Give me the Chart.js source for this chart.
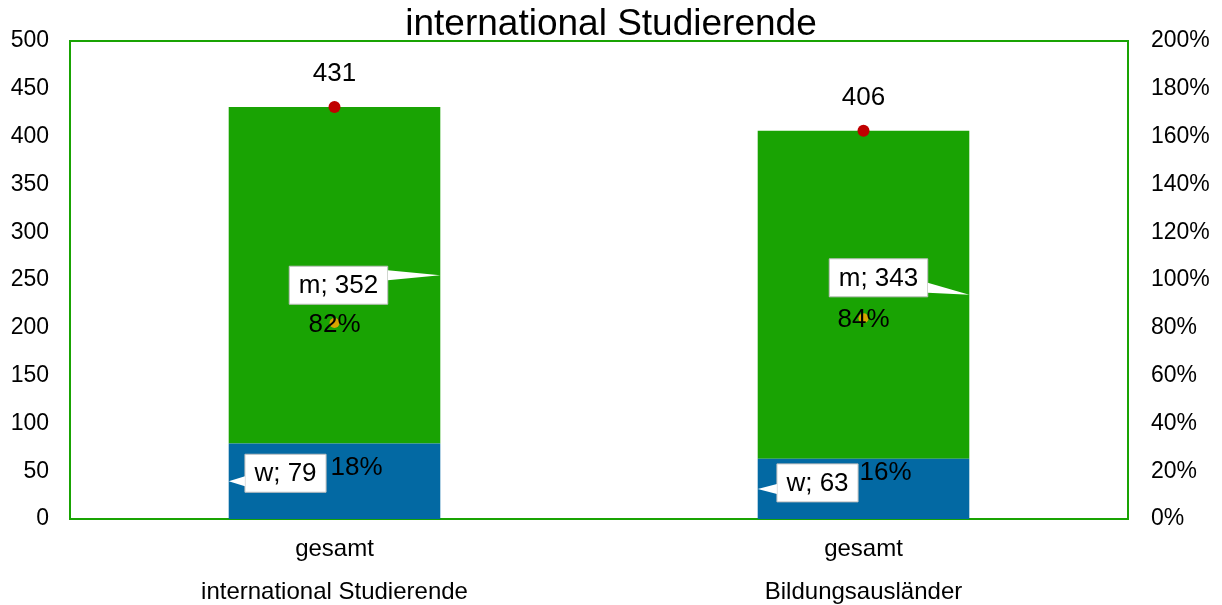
<!DOCTYPE html>
<html lang="de">
<head>
    <meta charset="UTF-8">
    <title>international Studierende</title>
    <script src="https://cdn.jsdelivr.net/npm/chart.js"></script>
    <style>
        body { margin: 0; background: #ffffff; }
        .wrap { width: 1222px; height: 605px; position: relative; }
    </style>
</head>
<body>
    <div class="wrap"><canvas id="chart"></canvas></div>

    <script>
        // data
        const categories = [['gesamt', 'international Studierende'], ['gesamt', 'Bildungsausländer']];
        const women = [79, 63];
        const men = [352, 343];
        const totals = [431, 406];
        const menShare = [82, 84];
        const womenShare = [18, 16];
        const leftMax = 500;
        const rightMax = 200;

        const GREEN = '#19a303';
        const BLUE = '#0369a3';
        const FONT = '"Liberation Sans", Arial, sans-serif';

        // callout box offsets relative to bar centre / segment middle (style only)
        const calloutStyle = {
            0: { dx: [-49, -46], dy: [-8, -6], side: 'left' },
            1: { dx: [4, 15], dy: [10, -17], side: 'right' }
        };

        const frame = {
            id: 'frame',
            beforeDraw(chart) {
                const { ctx, chartArea: a } = chart;
                ctx.save();
                ctx.strokeStyle = GREEN;
                ctx.lineWidth = 2;
                ctx.strokeRect(a.left, a.top, a.right - a.left, a.bottom - a.top);
                ctx.restore();
            },
            afterDraw(chart) {
                const { ctx } = chart;
                ctx.save();
                ctx.fillStyle = '#000';
                ctx.textAlign = 'center';
                ctx.textBaseline = 'middle';
                ctx.font = '37px ' + FONT;
                ctx.fillText('international Studierende', 611, 25);
                ctx.restore();
            }
        };

        const labels = {
            id: 'labels',
            afterDatasetsDraw(chart) {
                const { ctx } = chart;
                ctx.save();
                ctx.font = '26px ' + FONT;
                ctx.textBaseline = 'middle';

                // callouts for w / m
                [0, 1].forEach(di => {
                    const meta = chart.getDatasetMeta(di);
                    const name = di === 0 ? 'w' : 'm';
                    const vals = di === 0 ? women : men;
                    meta.data.forEach((bar, j) => {
                        const st = calloutStyle[di];
                        const mid = (bar.y + bar.base) / 2;
                        const txt = name + '; ' + vals[j];
                        const tw = ctx.measureText(txt).width;
                        const bw = tw + 19, bh = 38;
                        const cx = bar.x + st.dx[j], cy = mid + st.dy[j];
                        const x0 = cx - bw / 2, y0 = cy - bh / 2;
                        const tipX = st.side === 'right' ? bar.x + bar.width / 2 : bar.x - bar.width / 2;
                        const edge = st.side === 'right' ? x0 + bw : x0;
                        const ny = Math.max(y0 + 4, Math.min(y0 + bh - 14, mid - 5));
                        ctx.fillStyle = '#fff';
                        ctx.strokeStyle = '#bfbfbf';
                        ctx.lineWidth = 1;
                        ctx.beginPath();
                        ctx.rect(x0, y0, bw, bh);
                        ctx.fill();
                        ctx.stroke();
                        ctx.beginPath();
                        ctx.moveTo(edge, ny);
                        ctx.lineTo(tipX, mid);
                        ctx.lineTo(edge, ny + 10);
                        ctx.closePath();
                        ctx.fill();
                        ctx.fillStyle = '#000';
                        ctx.textAlign = 'center';
                        ctx.fillText(txt, cx, cy + 1);
                    });
                });

                ctx.textAlign = 'center';
                ctx.fillStyle = '#000';
                // totals
                chart.getDatasetMeta(2).data.forEach((p, j) => {
                    ctx.fillText(String(totals[j]), p.x, p.y - 33);
                });
                // shares
                chart.getDatasetMeta(3).data.forEach((p, j) => {
                    ctx.fillText(menShare[j] + '%', p.x, p.y + 2);
                });
                chart.getDatasetMeta(4).data.forEach((p, j) => {
                    ctx.fillText(womenShare[j] + '%', p.x + 22, p.y - 8);
                });
                ctx.restore();
            }
        };

        new Chart(document.getElementById('chart'), {
            data: {
                labels: categories,
                datasets: [
                    { type: 'bar', label: 'w', data: women, backgroundColor: BLUE, stack: 's', yAxisID: 'y', order: 2 },
                    { type: 'bar', label: 'm', data: men, backgroundColor: GREEN, stack: 's', yAxisID: 'y', order: 2 },
                    { type: 'line', label: 'gesamt', data: totals, showLine: false, pointRadius: 6, pointBackgroundColor: '#c00000', pointBorderWidth: 0, yAxisID: 'y', order: 1 },
                    { type: 'line', label: 'Anteil m', data: menShare, showLine: false, pointRadius: 5, pointBackgroundColor: '#d9a400', pointBorderWidth: 0, yAxisID: 'y2', order: 1 },
                    { type: 'line', label: 'Anteil w', data: womenShare, showLine: false, pointRadius: 0, yAxisID: 'y2', order: 1 }
                ]
            },
            options: {
                responsive: true,
                maintainAspectRatio: false,
                animation: false,
                layout: { padding: { top: 41 } },
                datasets: { bar: { categoryPercentage: 1, barPercentage: 0.4 } },
                plugins: { legend: { display: false }, tooltip: { enabled: false }, title: { display: false } },
                scales: {
                    x: {
                        stacked: true,
                        grid: { display: false, drawTicks: false },
                        border: { display: false },
                        ticks: { color: '#000', font: { family: FONT, size: 24, lineHeight: 1.8 }, padding: 9, maxRotation: 0 },
                        afterFit(s) { s.height = 86; }
                    },
                    y: {
                        stacked: true,
                        position: 'left',
                        min: 0, max: leftMax,
                        grid: { display: false, drawTicks: false },
                        border: { display: false },
                        ticks: { stepSize: 50, color: '#000', font: { family: FONT, size: 23 }, padding: 21 },
                        afterFit(s) { s.width = 70; }
                    },
                    y2: {
                        position: 'right',
                        min: 0, max: rightMax,
                        grid: { display: false, drawTicks: false },
                        border: { display: false },
                        ticks: { stepSize: 20, color: '#000', font: { family: FONT, size: 23 }, padding: 23, callback: v => v + '%' },
                        afterFit(s) { s.width = 94; }
                    }
                }
            },
            plugins: [frame, labels]
        });
    </script>
</body>
</html>
